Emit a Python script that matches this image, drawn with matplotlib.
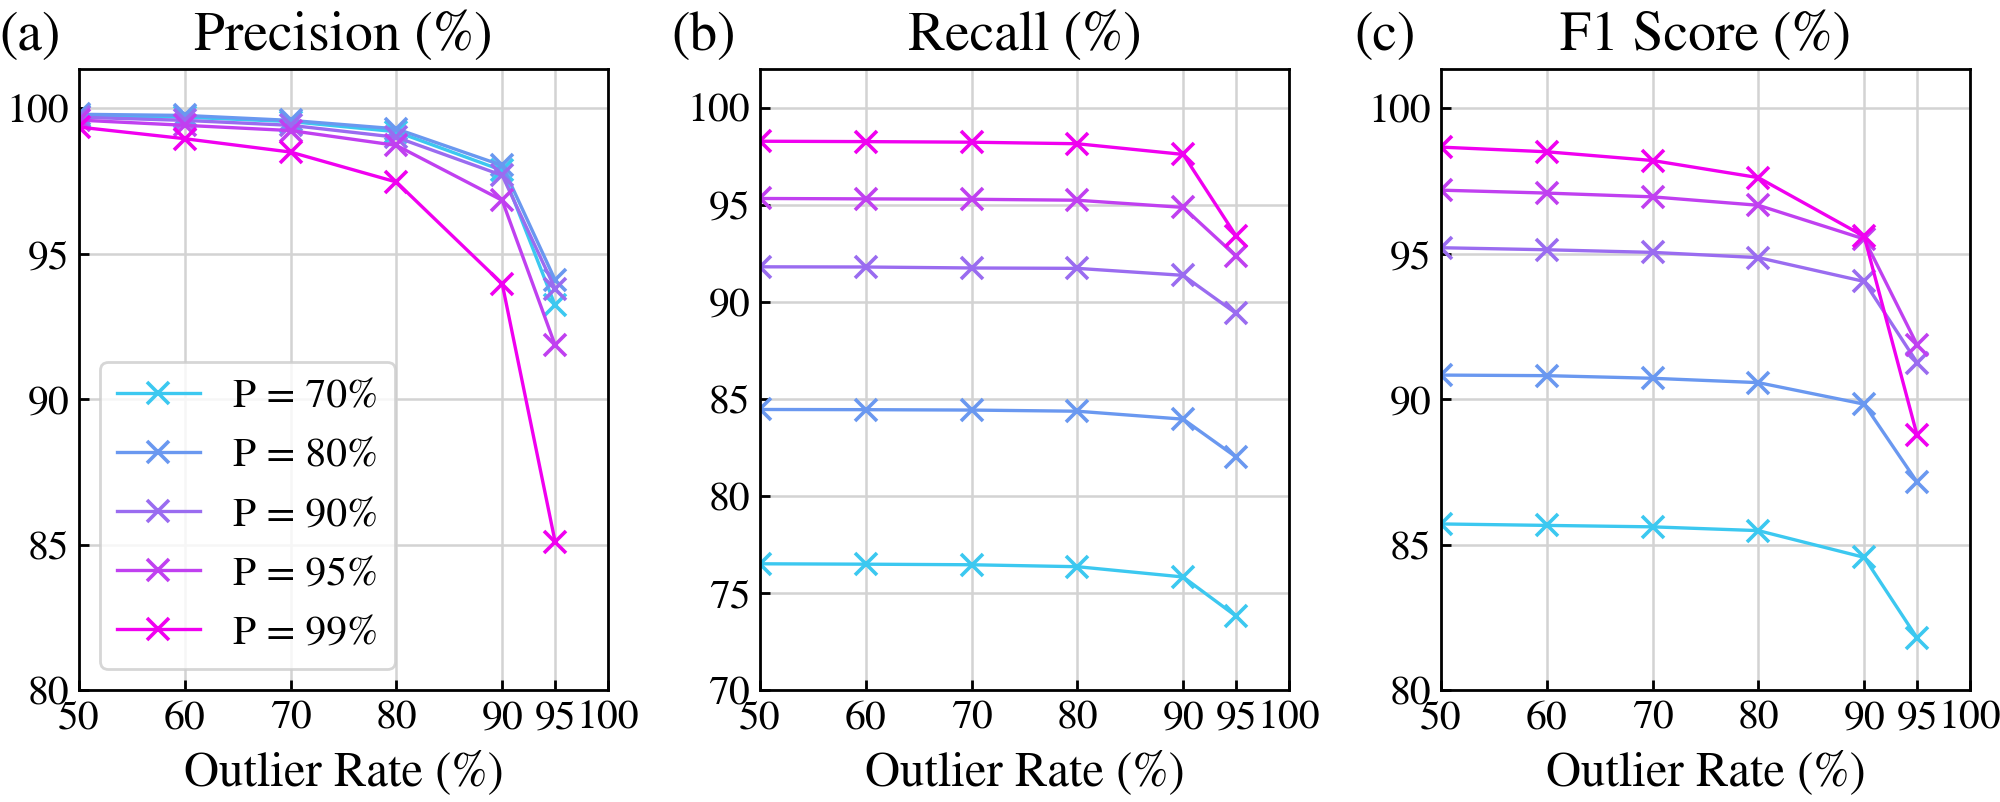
import numpy as np
import matplotlib.pyplot as plt

plt.rcParams['font.family'] = ['STIXGeneral', 'Liberation Serif', 'DejaVu Serif']

outlier_rates = [50, 60, 70, 80, 90, 95]
p_labels = ["P = 70%", "P = 80%", "P = 90%", "P = 95%", "P = 99%"]
colors = ['#3cc8f0', '#6a98f0', '#9a6cf0', '#c040f0', '#f000f0']

precision = [
    [99.75, 99.70, 99.55, 99.20, 97.87, 93.23],
    [99.80, 99.76, 99.59, 99.30, 98.04, 94.10],
    [99.70, 99.59, 99.42, 99.01, 97.70, 93.80],
    [99.60, 99.42, 99.24, 98.73, 96.84, 91.86],
    [99.36, 98.96, 98.50, 97.47, 93.97, 85.10],
]
recall = [
    [76.50, 76.48, 76.45, 76.35, 75.82, 73.80],
    [84.45, 84.44, 84.42, 84.36, 83.95, 82.00],
    [91.80, 91.79, 91.74, 91.72, 91.36, 89.40],
    [95.32, 95.30, 95.28, 95.23, 94.86, 92.35],
    [98.27, 98.25, 98.22, 98.14, 97.59, 93.39],
]
f1 = [
    [85.71, 85.66, 85.61, 85.48, 84.56, 81.79],
    [90.83, 90.81, 90.72, 90.57, 89.83, 87.15],
    [95.21, 95.14, 95.05, 94.87, 94.05, 91.26],
    [97.19, 97.09, 96.96, 96.67, 95.51, 91.87],
    [98.67, 98.51, 98.21, 97.62, 95.60, 88.76],
]

panels = [
    ("(a)", "Precision (%)", precision, (80, 101.35), [80, 85, 90, 95, 100], -0.15),
    ("(b)", "Recall (%)", recall, (70, 101.98), [70, 75, 80, 85, 90, 95, 100], -0.167),
    ("(c)", "F1 Score (%)", f1, (80, 101.35), [80, 85, 90, 95, 100], -0.163),
]

fig = plt.figure(figsize=(10, 4.01), dpi=200)
lefts = [0.0395, 0.38, 0.7205]

for i, (tag, title, values, ylim, yticks, tag_x) in enumerate(panels):
    ax = fig.add_axes([lefts[i], 0.1397, 0.2645, 0.774])
    for j in range(len(p_labels)):
        ax.plot(outlier_rates, values[j], marker='x', color=colors[j],
                lw=1.2, ms=8, mew=1.3, label=p_labels[j])
    ax.set_xlim(50, 100)
    ax.set_ylim(*ylim)
    ax.set_xticks([50, 60, 70, 80, 90, 95, 100])
    ax.set_yticks(yticks)
    ax.grid(True, color='#d3d3d3', lw=0.9)
    ax.set_axisbelow(True)
    ax.tick_params(direction='in', length=3.5, width=1.0, labelsize=15)
    for s in ax.spines.values():
        s.set_linewidth(1.0)
    ax.set_xlabel("Outlier Rate (%)", fontsize=17.5, labelpad=5)
    ax.set_title(title, fontsize=20, pad=7)
    ax.set_title(tag, fontsize=20, pad=7, loc='left', x=tag_x)
    if i == 0:
        ax.legend(loc='lower left', fontsize=15)

fig.savefig("out.png", dpi=200)
